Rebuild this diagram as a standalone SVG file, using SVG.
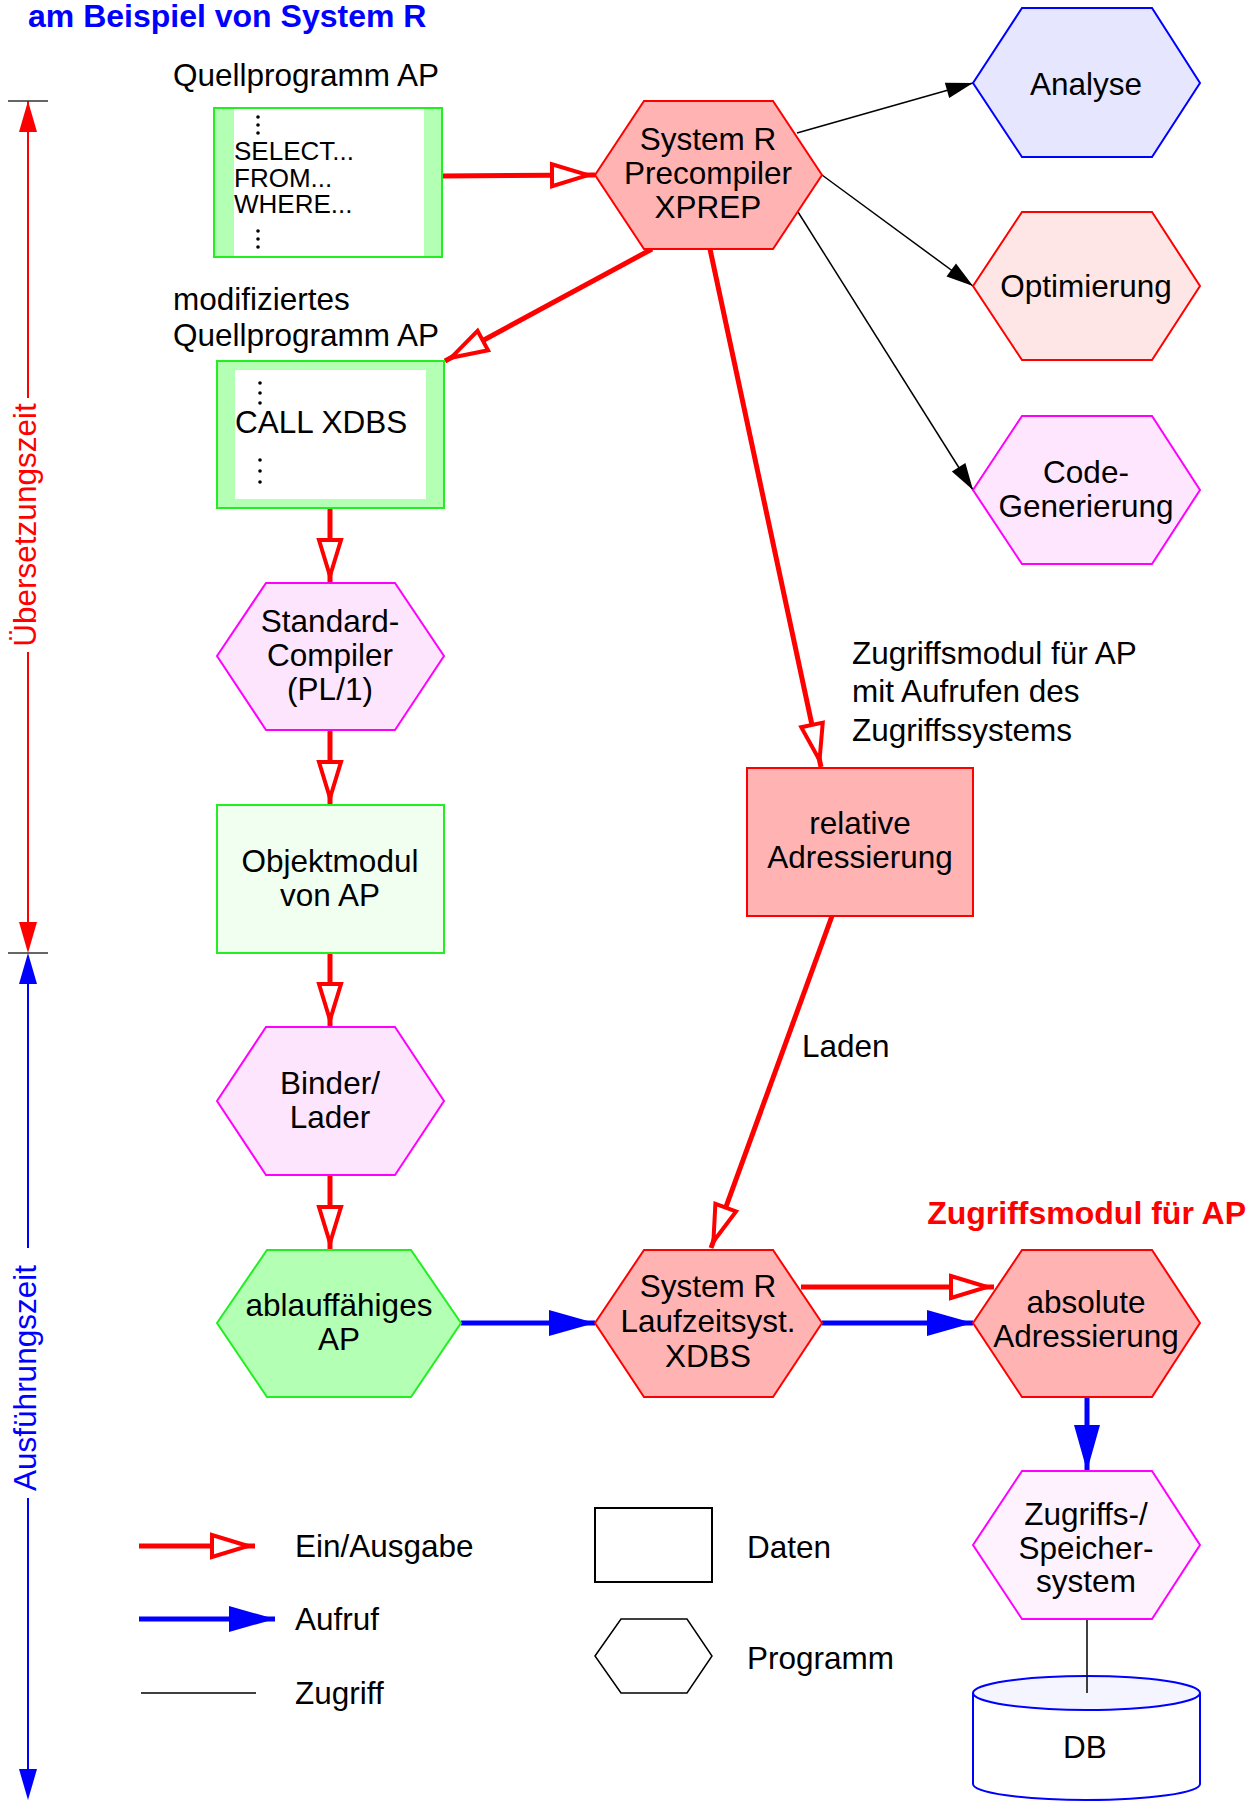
<svg xmlns="http://www.w3.org/2000/svg" width="1253" height="1802" viewBox="0 0 1253 1802">
<style>
text{font-family:"Liberation Sans",Arial,sans-serif;font-size:31.5px;fill:#000}
.c{text-anchor:middle}
.code{font-size:26px}
.hexr{fill:#ffb3b3;stroke:#ff0000;stroke-width:2}
.hexb{fill:#e6e6ff;stroke:#0000ff;stroke-width:2}
.hexo{fill:#ffe6e6;stroke:#ff0000;stroke-width:2}
.hexm{fill:#fde6fd;stroke:#ff00ff;stroke-width:2}
.hexz{fill:#fff2ff;stroke:#ff00ff;stroke-width:2}
.hexg{fill:#b3ffb3;stroke:#22ee22;stroke-width:2}
.boxg{fill:#b3ffb3;stroke:#22ee22;stroke-width:2}
.io{stroke:#ff0000;stroke-width:5;fill:none;marker-end:url(#mOpen)}
.call{stroke:#0000ff;stroke-width:5;fill:none;marker-end:url(#mBlue)}
.acc{stroke:#000;stroke-width:1.5;fill:none}
.accA{stroke:#000;stroke-width:1.5;fill:none;marker-end:url(#mBlack)}
.dot{fill:#000}
</style>
<defs>
<marker id="mOpen" markerUnits="userSpaceOnUse" viewBox="-42 -16 52 32" refX="7" refY="0" markerWidth="52" markerHeight="32" orient="auto" overflow="visible">
<path d="M0,0 L-36,-11 L-36,11 Z" fill="#fff" stroke="#ff0000" stroke-width="4" stroke-linejoin="miter"/>
</marker>
<marker id="mBlue" markerUnits="userSpaceOnUse" viewBox="-48 -15 50 30" refX="0" refY="0" markerWidth="50" markerHeight="30" orient="auto" overflow="visible">
<path d="M0,0 L-46,-13 L-46,13 Z" fill="#0000ff"/>
</marker>
<marker id="mBlack" markerUnits="userSpaceOnUse" viewBox="-30 -10 32 20" refX="0" refY="0" markerWidth="32" markerHeight="20" orient="auto" overflow="visible">
<path d="M0,0 L-27,-8 L-27,8 Z" fill="#000"/>
</marker>
</defs>
<rect width="1253" height="1802" fill="#fff"/>

<text x="28" y="27" style="font-weight:bold;font-size:32px;fill:#0000ff">am Beispiel von System R</text>

<g id="zeitachse">
<line x1="28" y1="101" x2="28" y2="398" stroke="#ff0000" stroke-width="2"/>
<line x1="28" y1="652" x2="28" y2="930" stroke="#ff0000" stroke-width="2"/>
<polygon points="28,101 19,132 37,132" fill="#ff0000"/>
<polygon points="28,953 19,922 37,922" fill="#ff0000"/>
<line x1="28" y1="975" x2="28" y2="1248" stroke="#0000ff" stroke-width="2"/>
<line x1="28" y1="1498" x2="28" y2="1775" stroke="#0000ff" stroke-width="2"/>
<polygon points="28,953 19,984 37,984" fill="#0000ff"/>
<polygon points="28,1800 19,1769 37,1769" fill="#0000ff"/>
<line x1="8" y1="101" x2="48" y2="101" stroke="#333" stroke-width="1.5"/>
<line x1="8" y1="953" x2="48" y2="953" stroke="#333" stroke-width="1.5"/>
<text class="c" transform="translate(36,525) rotate(-90)" style="fill:#ff0000">Übersetzungszeit</text>
<text class="c" transform="translate(36,1378) rotate(-90)" style="fill:#0000ff">Ausführungszeit</text>
</g>

<g id="connectors">
<line class="io" x1="442" y1="176" x2="595" y2="175"/>
<line class="io" x1="652" y1="249" x2="445" y2="361"/>
<line class="io" x1="710" y1="249" x2="821" y2="767"/>
<line class="io" x1="330" y1="508" x2="330" y2="583"/>
<line class="io" x1="330" y1="730" x2="330" y2="805"/>
<line class="io" x1="330" y1="953" x2="330" y2="1027"/>
<line class="io" x1="330" y1="1175" x2="330" y2="1250"/>
<line class="io" x1="832" y1="916" x2="711" y2="1248"/>
<line class="io" x1="801" y1="1287" x2="994" y2="1287"/>
<line class="call" x1="461" y1="1323" x2="595" y2="1323"/>
<line class="call" x1="822" y1="1323" x2="973" y2="1323"/>
<line class="call" x1="1087" y1="1397" x2="1087" y2="1471"/>
<line class="accA" x1="797" y1="133" x2="973" y2="83"/>
<line class="accA" x1="822" y1="175" x2="973" y2="286"/>
<line class="accA" x1="798" y1="212" x2="973" y2="490"/>
<line class="acc" x1="1087" y1="1619" x2="1087" y2="1693"/>
</g>

<g id="quellprogramm">
<text x="173" y="86">Quellprogramm AP</text>
<rect class="boxg" x="214" y="108" width="228" height="149"/>
<rect x="234" y="109" width="190" height="147" fill="#fff"/>
<circle class="dot" cx="258" cy="117" r="1.8"/><circle class="dot" cx="258" cy="125" r="1.8"/><circle class="dot" cx="258" cy="133" r="1.8"/>
<text class="code" x="234" y="160">SELECT...</text>
<text class="code" x="234" y="187">FROM...</text>
<text class="code" x="234" y="213">WHERE...</text>
<circle class="dot" cx="258" cy="231" r="1.8"/><circle class="dot" cx="258" cy="239" r="1.8"/><circle class="dot" cx="258" cy="247" r="1.8"/>
</g>

<g id="modifiziert">
<text x="173" y="310">modifiziertes</text>
<text x="173" y="346">Quellprogramm AP</text>
<rect class="boxg" x="217" y="361" width="227" height="147"/>
<rect x="235" y="370" width="191" height="129" fill="#fff"/>
<circle class="dot" cx="260" cy="383" r="1.8"/><circle class="dot" cx="260" cy="393" r="1.8"/><circle class="dot" cx="260" cy="403" r="1.8"/>
<text x="235" y="433">CALL XDBS</text>
<circle class="dot" cx="260" cy="460" r="1.8"/><circle class="dot" cx="260" cy="471" r="1.8"/><circle class="dot" cx="260" cy="482" r="1.8"/>
</g>

<g id="xprep">
<polygon class="hexr" points="595,175 644,101 773,101 822,175 773,249 644,249"/>
<text class="c" x="708" y="150">System R</text>
<text class="c" x="708" y="184">Precompiler</text>
<text class="c" x="708" y="218">XPREP</text>
</g>

<g id="analyse">
<polygon class="hexb" points="973,83 1022,8 1152,8 1200,83 1152,157 1022,157"/>
<text class="c" x="1086" y="95">Analyse</text>
</g>

<g id="optimierung">
<polygon class="hexo" points="973,286 1022,212 1152,212 1200,286 1152,360 1022,360"/>
<text class="c" x="1086" y="297">Optimierung</text>
</g>

<g id="codegen">
<polygon class="hexm" points="973,490 1022,416 1152,416 1200,490 1152,564 1022,564" style="fill:#ffe6ff"/>
<text class="c" x="1086" y="483">Code-</text>
<text class="c" x="1086" y="517">Generierung</text>
</g>

<g id="standardcompiler">
<polygon class="hexm" points="217,656 266,583 395,583 444,656 395,730 266,730"/>
<text class="c" x="330" y="632">Standard-</text>
<text class="c" x="330" y="666">Compiler</text>
<text class="c" x="330" y="700">(PL/1)</text>
</g>

<g id="objektmodul">
<rect x="217" y="805" width="227" height="148" fill="#f0fff0" stroke="#22ee22" stroke-width="2"/>
<text class="c" x="330" y="872">Objektmodul</text>
<text class="c" x="330" y="906">von AP</text>
</g>

<g id="binder">
<polygon class="hexm" points="217,1101 266,1027 395,1027 444,1101 395,1175 266,1175"/>
<text class="c" x="330" y="1094">Binder/</text>
<text class="c" x="330" y="1128">Lader</text>
</g>

<g id="ablauffaehig">
<polygon class="hexg" points="217,1323 267,1250 411,1250 461,1323 411,1397 267,1397"/>
<text class="c" x="339" y="1316">ablauffähiges</text>
<text class="c" x="339" y="1350">AP</text>
</g>

<g id="relativ">
<text x="852" y="664">Zugriffsmodul für AP</text>
<text x="852" y="702">mit Aufrufen des</text>
<text x="852" y="741">Zugriffssystems</text>
<rect x="747" y="768" width="226" height="148" fill="#ffb3b3" stroke="#ff0000" stroke-width="2"/>
<text class="c" x="860" y="834">relative</text>
<text class="c" x="860" y="868">Adressierung</text>
</g>

<text id="laden" x="802" y="1057">Laden</text>

<g id="xdbs">
<polygon class="hexr" points="595,1323 644,1250 773,1250 822,1323 773,1397 644,1397"/>
<text class="c" x="708" y="1297">System R</text>
<text class="c" x="708" y="1332">Laufzeitsyst.</text>
<text class="c" x="708" y="1367">XDBS</text>
</g>

<g id="absolut">
<text x="1246" y="1224" style="text-anchor:end;font-weight:bold;font-size:32px;fill:#ff0000">Zugriffsmodul für AP</text>
<polygon class="hexr" points="973,1323 1022,1250 1152,1250 1200,1323 1152,1397 1022,1397"/>
<text class="c" x="1086" y="1313">absolute</text>
<text class="c" x="1086" y="1347">Adressierung</text>
</g>

<g id="speichersystem">
<polygon class="hexz" points="973,1545 1022,1471 1152,1471 1200,1545 1152,1619 1022,1619"/>
<text class="c" x="1086" y="1525">Zugriffs-/</text>
<text class="c" x="1086" y="1559">Speicher-</text>
<text class="c" x="1086" y="1592">system</text>
</g>

<g id="db">
<path d="M973,1693 L973,1784 A113.5,16 0 0 0 1200,1784 L1200,1693" fill="#fff" stroke="#0000ff" stroke-width="2"/>
<ellipse cx="1086.5" cy="1693" rx="113.5" ry="17" fill="#f5f5ff" stroke="#0000ff" stroke-width="2"/>
<line class="acc" x1="1087" y1="1676" x2="1087" y2="1693"/>
<text class="c" x="1085" y="1758">DB</text>
</g>

<g id="legende">
<line class="io" x1="139" y1="1546" x2="255" y2="1546"/>
<text x="295" y="1557">Ein/Ausgabe</text>
<line class="call" x1="139" y1="1619" x2="275" y2="1619"/>
<text x="295" y="1630">Aufruf</text>
<line class="acc" x1="141" y1="1693" x2="256" y2="1693"/>
<text x="295" y="1704">Zugriff</text>
<rect x="595" y="1508" width="117" height="74" fill="none" stroke="#000" stroke-width="2"/>
<text x="747" y="1558">Daten</text>
<polygon points="595,1656 621,1619 687,1619 712,1656 687,1693 621,1693" fill="none" stroke="#000" stroke-width="1.5"/>
<text x="747" y="1669">Programm</text>
</g>
</svg>
